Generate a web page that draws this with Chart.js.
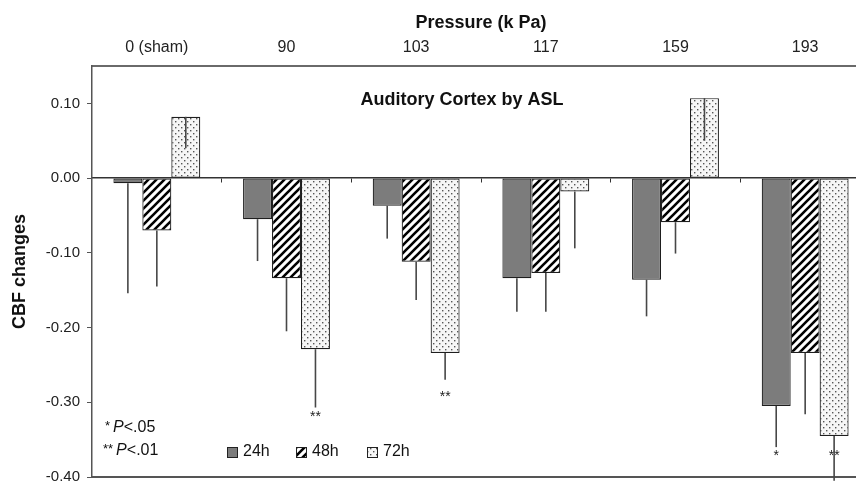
<!DOCTYPE html>
<html>
<head>
<meta charset="utf-8">
<script src="https://cdn.jsdelivr.net/npm/chart.js@4"></script>
<style>
  html, body { margin: 0; padding: 0; background: #fff; overflow: hidden; }
  canvas { display: block; }
</style>
</head>
<body>
<canvas id="cbfChart" width="880" height="493"></canvas>
<script>
const pressures = ['0 (sham)', '90', '103', '117', '159', '193'];
const seriesNames = ['24h', '48h', '72h'];

// mean CBF change per pressure group
const cbf24 = [-0.007, -0.055, -0.037, -0.134, -0.136, -0.305];
const cbf48 = [-0.070, -0.134, -0.112, -0.127, -0.059, -0.234];
const cbf72 = [0.082, -0.229, -0.234, -0.018, 0.107, -0.345];

// one-sided (minus) error bars
const err24 = [0.147, 0.056, 0.044, 0.045, 0.049, 0.055];
const err48 = [0.075, 0.071, 0.051, 0.052, 0.042, 0.082];
const err72 = [0.042, 0.078, 0.036, 0.076, 0.057, 0.060];

// significance marks: [series, group, text, y value]
const sigMarks = [
  [2, 1, '**', -0.32],
  [2, 2, '**', -0.293],
  [0, 5, '*', -0.372],
  [2, 5, '**', -0.372]
];

const yTicks = [-0.4, -0.3, -0.2, -0.1, 0, 0.1];

const FONT = "'Liberation Sans', Arial, Helvetica, sans-serif";
Chart.defaults.font.family = FONT;

function makeFill(kind) {
  if (kind === 'solid') return '#7c7c7c';
  const c = document.createElement('canvas');
  const p = c.getContext('2d');
  if (kind === 'stripes') {
    c.width = c.height = 8;
    p.fillStyle = '#fff';
    p.fillRect(0, 0, 8, 8);
    p.strokeStyle = '#000';
    p.lineWidth = 2.6;
    p.beginPath();
    p.moveTo(-1, 9); p.lineTo(9, -1);
    p.moveTo(-1, 1); p.lineTo(1, -1);
    p.moveTo(7, 9); p.lineTo(9, 7);
    p.stroke();
  } else {
    c.width = c.height = 6;
    p.fillStyle = '#f6f6f6';
    p.fillRect(0, 0, 6, 6);
    p.fillStyle = '#555';
    p.fillRect(1, 1, 1.4, 1.4);
    p.fillRect(4, 4, 1.4, 1.4);
  }
  return p.createPattern(c, 'repeat');
}

const fills = [makeFill('solid'), makeFill('stripes'), makeFill('dots')];

const errorBars = {
  id: 'errorBars',
  afterDatasetsDraw(chart) {
    const ctx = chart.ctx;
    const y = chart.scales.y;
    ctx.save();
    ctx.strokeStyle = '#474747';
    ctx.lineWidth = 1.6;
    chart.data.datasets.forEach((ds, i) => {
      chart.getDatasetMeta(i).data.forEach((bar, j) => {
        const v = ds.data[j];
        ctx.beginPath();
        ctx.moveTo(bar.x, y.getPixelForValue(v));
        ctx.lineTo(bar.x, y.getPixelForValue(v - ds.errors[j]));
        ctx.stroke();
      });
    });
    ctx.restore();
  }
};

const annotations = {
  id: 'annotations',
  afterDraw(chart) {
    const ctx = chart.ctx;
    const y = chart.scales.y;
    ctx.save();
    ctx.fillStyle = '#111';

    // inner title
    ctx.font = 'bold 18px ' + FONT;
    ctx.textAlign = 'center';
    ctx.textBaseline = 'middle';
    ctx.fillText('Auditory Cortex by ASL', 462, 100);

    // significance stars under bars
    ctx.font = '14px ' + FONT;
    ctx.fillStyle = '#222';
    sigMarks.forEach(([s, g, txt, at]) => {
      const bar = chart.getDatasetMeta(s).data[g];
      ctx.fillText(txt, bar.x, y.getPixelForValue(at));
    });

    // P-value notes
    ctx.fillStyle = '#111';
    ctx.textAlign = 'left';
    const note = (stars, pval, x, yy) => {
      ctx.font = '13px ' + FONT;
      ctx.fillText(stars, x, yy - 2);
      x += ctx.measureText(stars).width + 3;
      ctx.font = 'italic 16px ' + FONT;
      ctx.fillText('P', x, yy);
      x += ctx.measureText('P').width;
      ctx.font = '16px ' + FONT;
      ctx.fillText('<' + pval, x, yy);
    };
    note('*', '.05', 105, 428);
    note('**', '.01', 103, 451);

    // series legend
    const legendX = [227, 296, 367];
    chart.data.datasets.forEach((ds, i) => {
      const lx = legendX[i];
      ctx.fillStyle = ds.backgroundColor;
      ctx.fillRect(lx, 447, 10, 10);
      ctx.strokeStyle = '#222';
      ctx.lineWidth = 1;
      ctx.strokeRect(lx + 0.5, 447.5, 10, 10);
      ctx.fillStyle = '#111';
      ctx.font = '16px ' + FONT;
      ctx.fillText(ds.label, lx + 16, 452);
    });
    ctx.restore();
  }
};

const seriesData = [cbf24, cbf48, cbf72];
const seriesErr = [err24, err48, err72];

new Chart(document.getElementById('cbfChart'), {
  type: 'bar',
  data: {
    labels: pressures,
    datasets: seriesNames.map((name, i) => ({
      label: name,
      data: seriesData[i],
      errors: seriesErr[i],
      backgroundColor: fills[i],
      borderColor: '#1e1e1e',
      borderWidth: 1.2,
      borderSkipped: false,
      barPercentage: 1,
      categoryPercentage: 0.67
    }))
  },
  options: {
    responsive: false,
    animation: false,
    layout: { padding: { left: 0, right: 10, top: 0, bottom: 16 } },
    plugins: {
      legend: { display: false },
      tooltip: { enabled: false }
    },
    scales: {
      x: {
        type: 'category',
        position: { y: 0 },
        offset: true,
        grid: { offset: true, drawOnChartArea: false, tickLength: 4, color: '#333', lineWidth: 1 },
        ticks: { display: false },
        border: { display: true, color: '#333', width: 1.5 }
      },
      xTop: {
        type: 'category',
        labels: pressures,
        position: 'top',
        offset: true,
        grid: { display: false },
        ticks: { color: '#222', font: { size: 16 }, padding: 1, maxRotation: 0, autoSkip: false },
        border: { display: true, color: '#6a6a6a', width: 2 },
        title: {
          display: true,
          text: 'Pressure (k Pa)',
          color: '#111',
          font: { size: 18, weight: 'bold' },
          padding: { top: 12, bottom: 4 }
        },
        afterFit(s) { s.height = 66; }
      },
      xBottom: {
        type: 'category',
        labels: pressures,
        position: 'bottom',
        offset: true,
        grid: { display: false },
        ticks: { display: false },
        border: { display: true, color: '#555', width: 2 },
        afterFit(s) { s.height = 0; }
      },
      y: {
        min: -0.4,
        max: 0.15,
        afterBuildTicks(s) { s.ticks = yTicks.map(v => ({ value: v })); },
        ticks: { callback: v => v.toFixed(2), color: '#222', font: { size: 15 }, padding: 7 },
        grid: { drawOnChartArea: false, tickLength: 5, color: '#555' },
        border: { color: '#555', width: 1.5 },
        title: {
          display: true,
          text: 'CBF changes',
          color: '#111',
          font: { size: 18, weight: 'bold' },
          padding: { top: 9, bottom: 0 }
        },
        afterFit(s) { s.width = 92; }
      }
    }
  },
  plugins: [errorBars, annotations]
});
</script>
</body>
</html>
